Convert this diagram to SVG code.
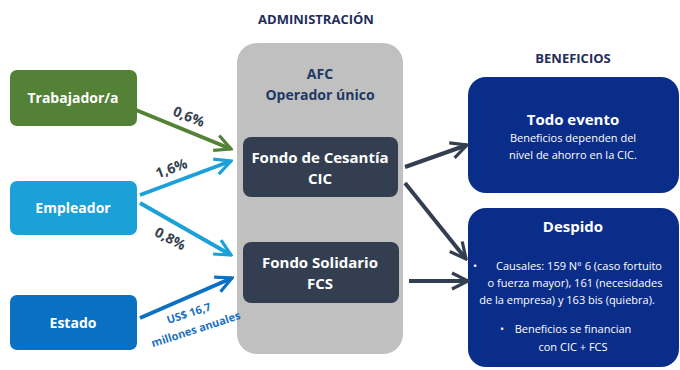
<svg xmlns="http://www.w3.org/2000/svg" width="680" height="370" viewBox="0 0 680 370">
<defs>
<style>
text{font-family:"Open Sans","Liberation Sans",sans-serif;font-weight:bold;text-anchor:middle}
.head{fill:#1f2d5a;font-size:13px}
.src{font-size:14px;fill:#ffffff}
.fund{font-size:15px;fill:#ffffff}
.pct{font-size:14px;fill:#333f50}
.usd{font-size:11px;fill:#1a6fc4}
.ben{fill:#ffffff;font-weight:normal;font-size:11px}
.ln{fill:none;stroke-width:4;stroke-linecap:butt}
</style>
<marker id="ahG" viewBox="0 0 10 10" refX="9" refY="5" markerWidth="5" markerHeight="5" orient="auto" markerUnits="strokeWidth"><polyline points="1,1 9,5 1,9" fill="none" stroke="#538135" stroke-width="1.6"/></marker>
<marker id="ahC" viewBox="0 0 10 10" refX="9" refY="5" markerWidth="5" markerHeight="5" orient="auto" markerUnits="strokeWidth"><polyline points="1,1 9,5 1,9" fill="none" stroke="#1ba1d8" stroke-width="1.6"/></marker>
<marker id="ahB" viewBox="0 0 10 10" refX="9" refY="5" markerWidth="5" markerHeight="5" orient="auto" markerUnits="strokeWidth"><polyline points="1,1 9,5 1,9" fill="none" stroke="#0a70c2" stroke-width="1.6"/></marker>
<marker id="ahD" viewBox="0 0 10 10" refX="9" refY="5" markerWidth="5" markerHeight="5" orient="auto" markerUnits="strokeWidth"><polyline points="1,1 9,5 1,9" fill="none" stroke="#333f50" stroke-width="1.6"/></marker>
</defs>
<rect width="680" height="370" fill="#ffffff"/>
<text class="head" x="316" y="24">ADMINISTRACIÓN</text>
<text class="head" x="573" y="63">BENEFICIOS</text>

<g id="afc">
<rect x="237" y="43" width="166" height="311" rx="20" fill="#c0c0c0"/>
<text x="320" y="79" font-size="14" fill="#1f3864">AFC</text>
<text x="320" y="100" font-size="14" fill="#1f3864">Operador único</text>
</g>
<g id="trabajador">
<rect x="10" y="70" width="127" height="56" rx="7" fill="#538135"/>
<text class="src" x="73" y="103">Trabajador/a</text>
</g>
<g id="empleador">
<rect x="10" y="181" width="127" height="54" rx="7" fill="#1ba1d8"/>
<text class="src" x="73" y="213">Empleador</text>
</g>
<g id="estado">
<rect x="10" y="295" width="127" height="55" rx="7" fill="#0a70c2"/>
<text class="src" x="73" y="328">Estado</text>
</g>
<g id="cic">
<rect x="243" y="137" width="155" height="60" rx="8" fill="#333f50"/>
<text class="fund" x="320" y="163">Fondo de Cesantía</text>
<text class="fund" x="320" y="184">CIC</text>
</g>
<g id="fcs">
<rect x="243" y="242" width="156" height="61" rx="8" fill="#333f50"/>
<text class="fund" x="320" y="268">Fondo Solidario</text>
<text class="fund" x="320" y="289">FCS</text>
</g>
<g id="todo">
<rect x="468" y="77" width="211" height="116" rx="18" fill="#0b2d8a"/>
<text x="573" y="125" font-size="15" fill="#ffffff">Todo evento</text>
<text class="ben" x="573" y="142">Beneficios dependen del</text>
<text class="ben" x="573" y="159">nivel de ahorro en la CIC.</text>
</g>
<g id="despido">
<rect x="468" y="208" width="211" height="159" rx="18" fill="#0b2d8a"/>
<text x="573" y="232" font-size="15" fill="#ffffff">Despido</text>
<text class="ben" x="475" y="270">•</text>
<text class="ben" x="579" y="270">Causales: 159 N° 6 (caso fortuito</text>
<text class="ben" x="575" y="287">o fuerza mayor), 161 (necesidades</text>
<text class="ben" x="567" y="304">de la empresa) y 163 bis (quiebra).</text>
<text class="ben" x="502" y="333">•</text>
<text class="ben" x="573" y="333">Beneficios se financian</text>
<text class="ben" x="573" y="351">con CIC + FCS</text>
</g>

<g id="connectors">
<line class="ln" x1="136" y1="110" x2="231" y2="149" stroke="#538135" marker-end="url(#ahG)"/>
<line class="ln" x1="140" y1="195" x2="231" y2="161" stroke="#1ba1d8" marker-end="url(#ahC)"/>
<line class="ln" x1="140" y1="203" x2="231" y2="255" stroke="#1ba1d8" marker-end="url(#ahC)"/>
<line class="ln" x1="140" y1="318" x2="232" y2="278" stroke="#0a70c2" marker-end="url(#ahB)"/>
<line class="ln" x1="405" y1="167" x2="467" y2="145" stroke="#333f50" marker-end="url(#ahD)"/>
<line class="ln" x1="405" y1="183" x2="466" y2="259" stroke="#333f50" marker-end="url(#ahD)"/>
<line class="ln" x1="409" y1="281" x2="468" y2="281" stroke="#333f50" marker-end="url(#ahD)"/>
<text class="pct" transform="translate(187,121) rotate(22)">0,6%</text>
<text class="pct" transform="translate(173,173) rotate(-20)">1,6%</text>
<text class="pct" transform="translate(168,243) rotate(28)">0,8%</text>
<text class="usd" transform="translate(190,317) rotate(-18)">US$ 16,7</text>
<text class="usd" transform="translate(197,333) rotate(-18)">millones anuales</text>
</g>
</svg>
